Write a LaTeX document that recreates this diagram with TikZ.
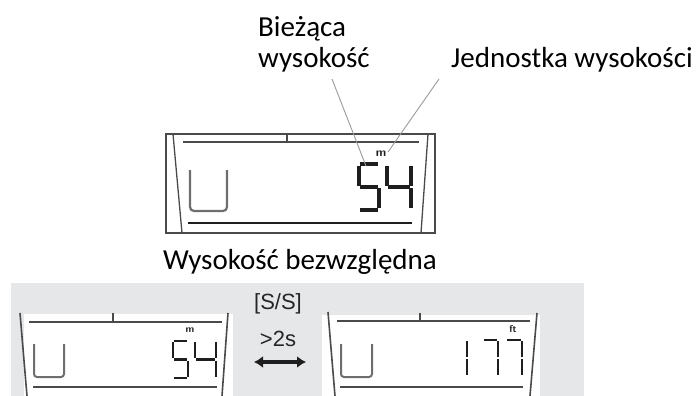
\documentclass[tikz,border=0pt]{standalone}
\usepackage{fontspec}
\setmainfont{Carlito}
\newfontfamily\narrowfont{Liberation Sans}
\usetikzlibrary{arrows.meta}
\definecolor{panelgray}{HTML}{E6E7E9}
\definecolor{framegray}{HTML}{4A4A4A}
\definecolor{ugray}{HTML}{6E6E6E}
\definecolor{leadgray}{HTML}{9A9A9A}
\definecolor{segdark}{HTML}{1E1E1E}
\newcommand{\sevdig}[6]{%
  \begin{scope}[shift={(#1,#2)},x=#3pt,y=-#4pt]
    \coordinate (a1) at (0.06,0);    \coordinate (a2) at (0.94,0);
    \coordinate (b1) at (1,0.04);    \coordinate (b2) at (1,0.47);
    \coordinate (c1) at (1,0.53);    \coordinate (c2) at (1,0.96);
    \coordinate (d1) at (0.06,1);    \coordinate (d2) at (0.94,1);
    \coordinate (e1) at (0,0.53);    \coordinate (e2) at (0,0.96);
    \coordinate (f1) at (0,0.04);    \coordinate (f2) at (0,0.47);
    \coordinate (g1) at (0.06,0.5);  \coordinate (g2) at (0.94,0.5);
    \foreach \s in {#6}{\draw[segstyle,line width=#5pt] (\s1) -- (\s2);}
  \end{scope}}
\begin{document}
\begin{tikzpicture}[x=1pt,y=-1pt,
  lbl/.style={inner sep=0pt,font=\fontsize{29}{31}\selectfont,align=left},
  seclbl/.style={inner sep=0pt,font=\fontsize{29}{31}\selectfont},
  keylbl/.style={inner sep=0pt,font=\narrowfont\fontsize{22}{24}\selectfont,text=black!85},
  unitlbl/.style={inner sep=0pt,font=\sffamily\bfseries\fontsize{12}{12}\selectfont,text=segdark},
  smallunit/.style={unitlbl,font=\sffamily\bfseries\fontsize{10}{10}\selectfont},
  frame/.style={draw=framegray,line width=1.3pt},
  thin/.style={draw=framegray,line width=1.6pt},
  thick/.style={draw=segdark,line width=2.6pt},
  ushape/.style={draw=ugray,line width=2.2pt,rounded corners=4pt},
  segstyle/.style={draw=segdark,line cap=butt},
  leader/.style={draw=leadgray,line width=0.9pt}]
\path[use as bounding box] (0,0) rectangle (696,396);

% ---------- labels ----------
\node[lbl,anchor=base west] (cur) at (258,67) {Bieżąca\\wysokość};
\node[lbl,anchor=base west] (unit) at (451,67) {Jednostka wysokości};

% ---------- top display ----------
\draw[frame] (166,134) rectangle (435,233);
\draw[frame] (173,134) -- (182,233);
\draw[frame] (428,134) -- (421,233);
\draw[thin] (183,142) -- (419,142);
\draw[thin] (287,134) -- (287,142);
\draw[thick] (188,223) -- (412,223);
\draw[ushape] (190,170) -- (190,211) -- (227,211) -- (227,170);
\sevdig{359}{164}{20}{46}{3.4}{a,f,g,c,d}
\sevdig{387}{164}{24}{46}{3.4}{f,g,b,c}
\node[unitlbl] (m1) at (381,154) {m};

\coordinate (l1s) at (332,79);
\coordinate (l1e) at (366,166);
\coordinate (l2s) at (439,79);
\coordinate (l2e) at (388,152);
\draw[leader] (l1s) -- (l1e);
\draw[leader] (l2s) -- (l2e);

\node[seclbl,anchor=base] (abs) at (300,269) {Wysokość bezwzględna};

% ---------- bottom panel ----------
\fill[panelgray] (11,283) rectangle (584,396);

% left display
\fill[white] (24,314) rectangle (233,396);
\draw[thin] (20,313) -- (27,396);
\draw[thin] (228,313) -- (222,396);
\draw[thin] (29,322) -- (222,322);
\draw[thin] (113,313) -- (113,322);
\draw[thin] (33,387) -- (217,387);
\draw[ushape,line width=2pt,rounded corners=3pt] (34,344) -- (34,377) -- (64,377) -- (64,344);
\sevdig{173}{341}{15}{37}{2.8}{a,f,g,c,d}
\sevdig{195}{341}{21}{37}{2.8}{f,g,b,c}
\node[smallunit] (m2) at (190,330) {m};

% key label and arrow
\node[keylbl] (ss) at (278,304) {[S/S]};
\node[keylbl] (tm) at (278,339) {>2s};
\coordinate (arl) at (254,362);
\coordinate (arr) at (306,362);
\draw[segdark,line width=3.2pt,{Latex[length=9pt,width=12pt]}-{Latex[length=9pt,width=12pt]}] (arl) -- (arr);

% right display
\fill[white] (322,315) rectangle (540,396);
\draw[thin] (328,312) -- (335,396);
\draw[thin] (537,313) -- (530,396);
\draw[thin] (337,321) -- (530,321);
\draw[thin] (420,313) -- (420,321);
\draw[thin] (340,387) -- (523,387);
\draw[ushape,line width=2pt,rounded corners=3pt] (341,344) -- (341,377) -- (372,377) -- (372,344);
\sevdig{455}{340}{12}{36}{2.8}{b,c}
\sevdig{483}{340}{15}{36}{2.8}{a,b,c}
\sevdig{506}{340}{16}{36}{2.8}{a,b,c}
\node[smallunit] (ft) at (513,329) {ft};
\end{tikzpicture}
\end{document}
